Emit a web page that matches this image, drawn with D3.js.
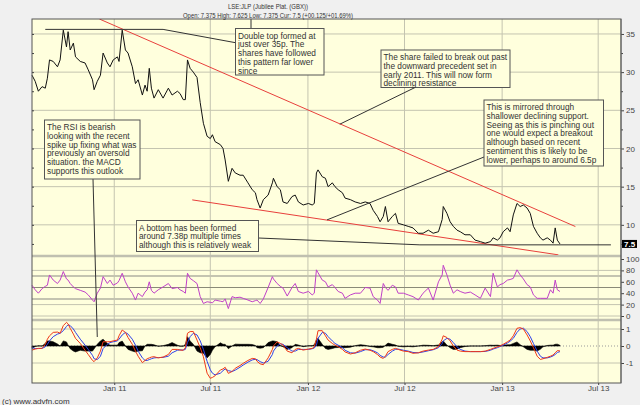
<!DOCTYPE html>
<html>
<head>
<meta charset="utf-8">
<script src="https://cdn.jsdelivr.net/npm/d3@7"></script>
<style>
body { margin: 0; background: #f0f0f0; }
svg { display: block; font-family: "Liberation Sans", Arial, sans-serif; }
</style>
</head>
<body>
<script>
// data
var dates = [
  "2010-07-30","2010-08-05","2010-08-11","2010-08-18","2010-08-24","2010-08-28","2010-09-01","2010-09-08","2010-09-16","2010-09-21",
  "2010-09-27","2010-10-03","2010-10-06","2010-10-10","2010-10-16","2010-10-20","2010-10-29","2010-11-07","2010-11-13","2010-11-21",
  "2010-11-24","2010-11-30","2010-12-06","2010-12-11","2010-12-19","2010-12-24","2010-12-30","2011-01-07","2011-01-10","2011-01-16",
  "2011-01-22","2011-01-27","2011-02-04","2011-02-10","2011-02-15","2011-02-23","2011-02-28","2011-03-04","2011-03-08","2011-03-12",
  "2011-03-17","2011-03-25","2011-04-03","2011-04-13","2011-04-20","2011-04-30","2011-05-05","2011-05-11","2011-05-15","2011-05-19",
  "2011-05-24","2011-05-30","2011-06-06","2011-06-12","2011-06-18","2011-06-25","2011-07-01","2011-07-05","2011-07-10","2011-07-20",
  "2011-07-25","2011-07-29","2011-08-04","2011-08-11","2011-08-17","2011-08-26","2011-09-01","2011-09-10","2011-09-18","2011-09-24",
  "2011-09-27","2011-10-03","2011-10-09","2011-10-18","2011-10-26","2011-10-28","2011-11-04","2011-11-10","2011-11-15","2011-11-23",
  "2011-12-02","2011-12-08","2011-12-14","2011-12-23","2012-01-02","2012-01-09","2012-01-13","2012-01-17","2012-01-20","2012-01-28",
  "2012-02-03","2012-02-08","2012-02-16","2012-02-21","2012-02-27","2012-03-06","2012-03-11","2012-03-21","2012-03-30","2012-04-09",
  "2012-04-18","2012-04-27","2012-05-03","2012-05-11","2012-05-16","2012-05-22","2012-05-26","2012-05-31","2012-06-08","2012-06-14",
  "2012-06-19","2012-06-29","2012-07-08","2012-07-17","2012-07-27","2012-08-05","2012-08-15","2012-08-24","2012-09-03","2012-09-10",
  "2012-09-12","2012-09-19","2012-09-25","2012-10-01","2012-10-08","2012-10-14","2012-10-23","2012-11-02","2012-11-11","2012-11-21",
  "2012-11-30","2012-12-10","2012-12-15","2012-12-23","2012-12-28","2013-01-03","2013-01-11","2013-01-16","2013-01-22","2013-01-29",
  "2013-02-04","2013-02-10","2013-02-17","2013-02-23","2013-03-01","2013-03-08","2013-03-14","2013-03-19","2013-03-27","2013-04-02",
  "2013-04-07","2013-04-11","2013-04-15","2013-04-20"
];

var price = [
  29.6, 28.8, 27.5, 28.1, 27.9, 29.2, 31.6, 31.4, 30.7, 31.6,
  35.5, 33.3, 35.3, 32.9, 33.8, 32.0, 31.4, 31.2, 30.3, 29.0,
  27.7, 28.8, 29.6, 32.5, 31.2, 30.7, 31.6, 32.0, 31.4, 35.5,
  32.9, 32.5, 30.7, 28.5, 29.0, 27.0, 28.3, 27.5, 30.5, 27.9,
  26.6, 27.7, 26.6, 27.9, 27.0, 27.5, 27.2, 26.4, 26.4, 31.6,
  30.5, 30.0, 29.3, 26.0, 23.3, 21.6, 21.3, 21.8, 20.9, 20.5,
  20.0, 18.5, 15.7, 17.4, 16.8, 16.5, 16.5, 15.5, 14.6, 14.2,
  13.3, 12.2, 13.3, 13.9, 15.5, 16.1, 15.0, 14.6, 13.0, 12.8,
  13.7, 13.9, 13.0, 12.6, 12.8, 12.6, 12.8, 16.8, 17.2, 16.3,
  16.1, 15.0, 15.5, 15.0, 14.6, 14.2, 13.5, 13.3, 13.0, 12.8,
  13.0, 12.8, 11.9, 11.1, 10.4, 11.1, 12.4, 10.4, 11.1, 11.5,
  10.2, 10.0, 9.8, 9.6, 8.9, 8.9, 9.3, 8.9, 9.1, 10.7,
  12.4, 11.5, 10.4, 9.8, 9.3, 9.1, 8.7, 8.7, 8.0, 7.8,
  7.6, 7.8, 8.3, 8.0, 8.3, 9.1, 9.6, 9.1, 11.3, 12.8,
  12.4, 12.6, 12.2, 11.5, 9.8, 8.9, 8.3, 8.0, 8.3, 8.0,
  7.6, 9.6, 8.0, 7.5
];

var rsi = [
  54, 46, 40, 48, 52, 54, 72, 63, 57, 63,
  78, 65, 63, 57, 51, 48, 45, 42, 37, 28,
  25, 40, 49, 69, 57, 63, 54, 58, 62, 75,
  60, 51, 40, 28, 40, 34, 42, 46, 60, 45,
  40, 46, 51, 57, 48, 50, 46, 43, 40, 75,
  66, 62, 57, 34, 22, 25, 24, 23, 28, 26,
  25, 30, 13, 34, 32, 33, 31, 28, 25, 27,
  28, 22, 30, 50, 69, 65, 57, 52, 49, 35,
  50, 57, 43, 40, 43, 37, 40, 81, 76, 63,
  60, 51, 55, 50, 43, 40, 31, 37, 40, 40,
  50, 49, 34, 28, 22, 57, 50, 45, 54, 51,
  40, 40, 37, 34, 28, 40, 49, 28, 60, 72,
  89, 72, 54, 40, 46, 43, 40, 42, 37, 31,
  49, 34, 75, 51, 55, 57, 63, 64, 66, 81,
  72, 65, 55, 51, 37, 31, 31, 31, 31, 46,
  40, 63, 46, 43
];

var macd = [
  -0.24, -0.18, -0.14, -0.14, 0.1, 0.4, 0.6, 0.8, 0.82, 0.75,
  1.2, 1.39, 1.3, 1.04, 0.7, 0.45, 0.15, -0.25, -0.5, -0.85,
  -0.92, -0.7, -0.3, 0.25, 0.25, 0.25, 0.3, 0.35, 0.6, 0.94,
  0.8, 0.5, 0.1, -0.3, -0.6, -0.98, -0.85, -0.75, -0.7, -0.65,
  -0.63, -0.7, -0.65, -0.5, -0.2, -0.2, -0.24, -0.25, -0.1, 0.75,
  0.85, 0.85, 0.35, -0.1, -0.63, -1.6, -1.9, -1.85, -1.75, -1.41,
  -1.35, -1.25, -1.61, -1.5, -1.31, -1.15, -1.02, -0.85, -0.73, -0.75,
  -0.9, -1.05, -1.1, -0.7, -0.2, 0.0, 0.25, 0.15, 0.06, -0.3,
  -0.4, -0.2, -0.14, -0.24, -0.18, -0.14, -0.05, 0.4, 0.9, 0.9,
  0.6, 0.35, 0.15, 0.05, -0.04, -0.2, -0.35, -0.47, -0.4, -0.25,
  -0.18, -0.25, -0.33, -0.5, -0.65, -0.73, -0.6, -0.33, -0.2, -0.14,
  -0.2, -0.3, -0.33, -0.43, -0.4, -0.3, -0.24, -0.2, -0.04, 0.4,
  0.6, 0.5, 0.3, 0.0, -0.24, -0.3, -0.33, -0.33, -0.33, -0.33,
  -0.3, -0.2, -0.14, -0.05, 0.0, 0.1, 0.25, 0.35, 0.6, 1.04,
  1.08, 1.0, 0.65, 0.3, -0.1, -0.6, -0.79, -0.75, -0.67, -0.6,
  -0.53, -0.4, -0.27, -0.29
];

var signal = [
  -0.1, -0.15, -0.15, -0.14, -0.05, 0.1, 0.3, 0.55, 0.7, 0.75,
  0.9, 1.15, 1.25, 1.2, 1.0, 0.8, 0.4, 0.05, -0.2, -0.55,
  -0.75, -0.8, -0.6, -0.15, 0.1, 0.2, 0.25, 0.3, 0.4, 0.65,
  0.8, 0.7, 0.4, 0.05, -0.3, -0.7, -0.85, -0.85, -0.8, -0.75,
  -0.7, -0.68, -0.67, -0.6, -0.4, -0.25, -0.23, -0.24, -0.2, 0.2,
  0.55, 0.75, 0.65, 0.3, -0.2, -0.9, -1.4, -1.6, -1.7, -1.6,
  -1.45, -1.35, -1.45, -1.5, -1.42, -1.25, -1.12, -0.95, -0.82, -0.78,
  -0.8, -0.92, -1.0, -0.9, -0.5, -0.3, 0.0, 0.12, 0.1, -0.1,
  -0.3, -0.3, -0.2, -0.2, -0.2, -0.16, -0.12, 0.05, 0.45, 0.8,
  0.75, 0.55, 0.3, 0.15, 0.05, -0.1, -0.25, -0.4, -0.42, -0.33,
  -0.22, -0.22, -0.28, -0.4, -0.55, -0.65, -0.65, -0.5, -0.3, -0.2,
  -0.18, -0.25, -0.3, -0.38, -0.4, -0.35, -0.28, -0.22, -0.1, 0.15,
  0.3, 0.45, 0.4, 0.2, -0.05, -0.2, -0.3, -0.33, -0.33, -0.33,
  -0.32, -0.25, -0.18, -0.1, -0.03, 0.05, 0.18, 0.28, 0.45, 0.8,
  1.0, 1.05, 0.85, 0.55, 0.15, -0.3, -0.6, -0.7, -0.7, -0.65,
  -0.58, -0.5, -0.38, -0.33
];

var hist = [
  -0.14, -0.03, 0.01, 0, 0.15, 0.3, 0.3, 0.25, 0.12, 0,
  0.3, 0.24, 0.05, -0.16, -0.3, -0.35, -0.25, -0.3, -0.3, -0.3,
  -0.17, 0.1, 0.3, 0.4, 0.15, 0.05, 0.05, 0.05, 0.2, 0.29,
  0, -0.2, -0.3, -0.35, -0.3, -0.28, 0, 0.1, 0.1, 0.1,
  0.07, -0.02, 0.02, 0.1, 0.2, 0.05, -0.01, -0.01, 0.1, 0.55,
  0.3, 0.1, -0.3, -0.4, -0.43, -0.7, -0.5, -0.25, -0.05, 0.19,
  0.1, 0.1, -0.16, 0, 0.11, 0.1, 0.1, 0.1, 0.09, 0.03,
  -0.1, -0.13, -0.1, 0.2, 0.3, 0.3, 0.25, 0.03, -0.04, -0.2,
  -0.1, 0.1, 0.06, -0.04, 0.02, 0.02, 0.07, 0.35, 0.45, 0.1,
  -0.15, -0.2, -0.15, -0.1, -0.09, -0.1, -0.1, -0.07, 0.02, 0.08,
  0.04, -0.03, -0.05, -0.1, -0.1, -0.08, 0.05, 0.17, 0.1, 0.06,
  -0.02, -0.05, -0.03, -0.05, 0, 0.05, 0.04, 0.02, 0.06, 0.25,
  0.3, 0.05, -0.1, -0.2, -0.19, -0.1, -0.03, 0, 0, 0,
  0.02, 0.05, 0.04, 0.05, 0.03, 0.05, 0.07, 0.07, 0.15, 0.24,
  0.08, -0.05, -0.2, -0.25, -0.25, -0.3, -0.19, -0.05, 0.03, 0.05,
  0.05, 0.1, 0.11, 0.04
];

var priceTicks = [10, 15, 20, 25, 30, 35];
var priceMinor = [7.5, 12.5, 17.5, 22.5, 27.5, 32.5];
var rsiTicks = [0, 20, 40, 60, 80, 100];
var macdTicks = [-1, 0, 1];
var dateTicks = ["2011-01-01", "2011-07-01", "2012-01-01", "2012-07-01", "2013-01-01", "2013-07-01"];
var dateLabels = ["Jan 11", "Jul 11", "Jan 12", "Jul 12", "Jan 13", "Jul 13"];

// trend lines drawn on the chart (date, price)
var resistance = [["2010-12-04", 36.96], ["2013-05-19", 9.78]];
var support = [["2011-05-28", 13.27], ["2013-04-17", 6.07]];
var doubleTop = [["2010-08-24", 35.6], ["2011-04-03", 35.6]];
var bottomLine = [["2012-07-30", 7.38], ["2013-07-25", 7.38]];
var lastPrice = 7.5;

var title = "LSE:JLP (Jubilee Plat. (GBX))";
var subtitle = "Open: 7.375 High: 7.625 Low: 7.375 Cur: 7.5 (+00.125/+01.69%)";

var notes = [
  { x: 235.5, y: 28.5, w: 88.5, h: 46.5, lines: ["Double top formed at", "just over 35p. The", "shares have followed", "this pattern far lower", "since"] },
  { x: 381, y: 50, w: 129, h: 37.5, lines: ["The share failed to break out past", "the downward precedent set in", "early 2011. This will now form", "declining resistance"] },
  { x: 484, y: 100, w: 119.5, h: 66, lines: ["This is mirrored through", "shallower declining support.", "Seeing as this is pinching out", "one would expect a breakout", "although based on recent", "sentiment this is likely to be", "lower, perhaps to around 6.5p"] },
  { x: 44.5, y: 120, w: 95.5, h: 59, lines: ["The RSI is bearish", "looking with the recent", "spike up fixing what was", "previously an oversold", "situation. the MACD", "supports this outlook"] },
  { x: 136.5, y: 220.5, w: 122, h: 31, lines: ["A bottom has been formed", "around 7.38p multiple times", "although this is relatively weak"] }
];

// set up svg (note: "top" is reserved on window, so plot edges get their own names)
var w = 640, h = 405;
var plotL = 32, plotR = 621, plotT = 19, plotB = 383;
var priceBottom = 255;

var parse = d3.timeParse("%Y-%m-%d");
var rows = dates.map(function(d, i) {
  return { date: parse(d), price: price[i], rsi: rsi[i], macd: macd[i], signal: signal[i], hist: hist[i] };
});

var x = d3.scaleTime()
          .domain([parse("2010-07-30"), parse("2013-08-13")])
          .range([plotL, plotR]);
var y = d3.scaleLinear().domain([6.05, 36.96]).range([priceBottom, plotT]);
var yR = d3.scaleLinear().domain([0, 100]).range([316, 259]);
var yM = d3.scaleLinear().domain([0, 1]).range([346, 329]);

var svg = d3.select("body")
            .append("svg")
            .attr("width", w)
            .attr("height", h);

svg.append("rect").attr("width", w).attr("height", h).attr("fill", "#f0f0f0");
svg.append("rect")
   .attr("x", plotL).attr("y", plotT)
   .attr("width", plotR - plotL).attr("height", plotB - plotT)
   .attr("fill", "#ffffdd");

svg.append("clipPath").attr("id", "pclip")
   .append("rect").attr("x", plotL).attr("y", plotT)
   .attr("width", plotR - plotL).attr("height", priceBottom - plotT);

var grid = "#c4c4b0";

// vertical grid
svg.selectAll(".vgrid")
   .data(dateTicks)
   .enter().append("line")
   .attr("x1", (d) => x(parse(d))).attr("x2", (d) => x(parse(d)))
   .attr("y1", plotT).attr("y2", plotB)
   .attr("stroke", grid).attr("stroke-width", 1);

// price grid
svg.selectAll(".pgrid")
   .data(priceTicks)
   .enter().append("line")
   .attr("x1", plotL).attr("x2", plotR)
   .attr("y1", (d) => y(d)).attr("y2", (d) => y(d))
   .attr("stroke", grid);

// rsi grid
var rsiLines = [[80, 1, grid], [70, 2, grid], [50, 1, "#8a8a78"], [30, 2, grid], [20, 1, grid], [0, 1, grid]];
svg.selectAll(".rgrid")
   .data(rsiLines)
   .enter().append("line")
   .attr("x1", plotL).attr("x2", plotR)
   .attr("y1", (d) => yR(d[0])).attr("y2", (d) => yR(d[0]))
   .attr("stroke", (d) => d[2]).attr("stroke-width", (d) => d[1]);

// macd grid
svg.selectAll(".mgrid")
   .data([1, -1])
   .enter().append("line")
   .attr("x1", plotL).attr("x2", plotR)
   .attr("y1", (d) => yM(d)).attr("y2", (d) => yM(d))
   .attr("stroke", grid);
svg.append("line")
   .attr("x1", plotL).attr("x2", plotR)
   .attr("y1", yM(0)).attr("y2", yM(0))
   .attr("stroke", "#999").attr("stroke-dasharray", "1,2");

// panel separators
[256, 320].forEach(function(s) {
  svg.append("line")
     .attr("x1", plotL).attr("x2", plotR)
     .attr("y1", s).attr("y2", s)
     .attr("stroke", "#c0c0b0").attr("stroke-width", 2.5);
});

// trend lines
var tl = d3.line().x((d) => x(parse(d[0]))).y((d) => y(d[1]));
svg.append("g").attr("clip-path", "url(#pclip)")
   .selectAll("path")
   .data([resistance, support])
   .enter().append("path")
   .attr("d", tl)
   .attr("fill", "none").attr("stroke", "#e8403c").attr("stroke-width", 1);

// price
svg.append("path")
   .datum(rows)
   .attr("d", d3.line().x((d) => x(d.date)).y((d) => y(d.price)))
   .attr("fill", "none").attr("stroke", "#111").attr("stroke-width", 1);

// rsi
svg.append("path")
   .datum(rows)
   .attr("d", d3.line().x((d) => x(d.date)).y((d) => yR(d.rsi)))
   .attr("fill", "none").attr("stroke", "#c040c8").attr("stroke-width", 1);

// macd histogram, drawn as filled spikes around zero
svg.append("path")
   .datum(rows)
   .attr("d", d3.area().x((d) => x(d.date)).y0(yM(0)).y1((d) => yM(d.hist)))
   .attr("fill", "#000").attr("stroke", "#000").attr("stroke-width", 0.6);

svg.append("path")
   .datum(rows)
   .attr("d", d3.line().x((d) => x(d.date)).y((d) => yM(d.signal)))
   .attr("fill", "none").attr("stroke", "#3040e8").attr("stroke-width", 1);
svg.append("path")
   .datum(rows)
   .attr("d", d3.line().x((d) => x(d.date)).y((d) => yM(d.macd)))
   .attr("fill", "none").attr("stroke", "#f03818").attr("stroke-width", 1);

// annotations
var link = "#333";
svg.append("path")
   .attr("d", d3.line()([[x(parse(doubleTop[0][0])), y(doubleTop[0][1])],
                         [x(parse(doubleTop[1][0])), y(doubleTop[1][1])],
                         [notes[0].x, 42.7]]))
   .attr("fill", "none").attr("stroke", link);
svg.append("line").attr("x1", 251).attr("x2", 251).attr("y1", plotT).attr("y2", notes[0].y).attr("stroke", link);
svg.append("line")
   .attr("x1", 415).attr("y1", notes[1].y + notes[1].h)
   .attr("x2", x(parse("2012-03-01"))).attr("y2", y(23.18))
   .attr("stroke", link);
svg.append("line")
   .attr("x1", notes[2].x).attr("y1", 157)
   .attr("x2", x(parse("2012-02-06"))).attr("y2", y(10.65))
   .attr("stroke", link);
svg.append("line")
   .attr("x1", 93).attr("y1", notes[3].y + notes[3].h)
   .attr("x2", x(parse("2010-11-30"))).attr("y2", yM(0.53))
   .attr("stroke", link);
svg.append("path")
   .attr("d", d3.line()([[notes[4].x + notes[4].w, 238],
                         [x(parse(bottomLine[0][0])), y(bottomLine[0][1])],
                         [x(parse(bottomLine[1][0])), y(bottomLine[1][1])]]))
   .attr("fill", "none").attr("stroke", link);

var box = svg.selectAll(".note")
             .data(notes)
             .enter().append("g");
box.append("rect")
   .attr("x", (d) => d.x).attr("y", (d) => d.y)
   .attr("width", (d) => d.w).attr("height", (d) => d.h)
   .attr("fill", "#ffffdd").attr("stroke", "#555");
box.each(function(d) {
  d3.select(this).selectAll("text")
    .data(d.lines)
    .enter().append("text")
    .attr("x", d.x + 2.5)
    .attr("y", (t, i) => d.y + 10 + i * 8.75)
    .attr("font-size", "8.3px")
    .attr("fill", "#333")
    .text((t) => t);
});

// frame
svg.append("rect")
   .attr("x", plotL).attr("y", plotT)
   .attr("width", plotR - plotL).attr("height", plotB - plotT)
   .attr("fill", "none").attr("stroke", "#555").attr("stroke-width", 1);

// axes
function styleAxis(g) {
  g.select(".domain").remove();
  g.selectAll("line").attr("stroke", "#444");
  g.selectAll("text").attr("fill", "#444").attr("font-size", "8px")
   .attr("font-family", "Liberation Sans, Arial, sans-serif");
}

svg.append("g").attr("transform", "translate(" + plotR + ",0)")
   .call(d3.axisRight(y).tickValues(priceTicks).tickSize(3).tickPadding(2))
   .call(styleAxis);
svg.append("g").attr("transform", "translate(" + plotR + ",0)")
   .call(d3.axisRight(y).tickValues(priceMinor).tickSize(2).tickFormat(""))
   .call(styleAxis);
svg.append("g").attr("transform", "translate(" + plotL + ",0)")
   .call(d3.axisRight(y).tickValues(priceTicks.concat(priceMinor)).tickSize(2).tickFormat(""))
   .call(styleAxis);
svg.append("g").attr("transform", "translate(" + plotR + ",0)")
   .call(d3.axisRight(yR).tickValues(rsiTicks).tickSize(3).tickPadding(2))
   .call(styleAxis);
svg.append("g").attr("transform", "translate(" + plotR + ",0)")
   .call(d3.axisRight(yM).tickValues(macdTicks).tickSize(3).tickPadding(2)
           .tickFormat((d) => String(d)))
   .call(styleAxis);
svg.append("g").attr("transform", "translate(0," + plotB + ")")
   .call(d3.axisBottom(x).tickValues(dateTicks.map(parse)).tickSize(2).tickPadding(0)
           .tickFormat((d, i) => dateLabels[i]))
   .call(styleAxis);

svg.append("line")
   .attr("x1", plotR).attr("x2", plotR).attr("y1", plotT).attr("y2", plotB)
   .attr("stroke", "#666");

// current price marker
svg.append("rect")
   .attr("x", plotR + 1).attr("y", y(lastPrice) - 4)
   .attr("width", 15).attr("height", 8).attr("fill", "#000");
svg.append("text")
   .attr("x", plotR + 3).attr("y", y(lastPrice) + 3)
   .attr("font-size", "8px").attr("font-weight", "bold").attr("fill", "#fff")
   .text(lastPrice);

// titles
svg.append("text")
   .attr("x", 268).attr("y", 8.5)
   .attr("text-anchor", "middle")
   .attr("font-size", "7px").attr("fill", "#333")
   .attr("textLength", 80).attr("lengthAdjust", "spacingAndGlyphs")
   .text(title);
svg.append("text")
   .attr("x", 268).attr("y", 17.5)
   .attr("text-anchor", "middle")
   .attr("font-size", "7px").attr("fill", "#333")
   .attr("textLength", 170).attr("lengthAdjust", "spacingAndGlyphs")
   .text(subtitle);

svg.append("text")
   .attr("x", 2).attr("y", 403.5)
   .attr("font-size", "8px").attr("fill", "#333")
   .text("(c) www.advfn.com");
</script>
</body>
</html>
